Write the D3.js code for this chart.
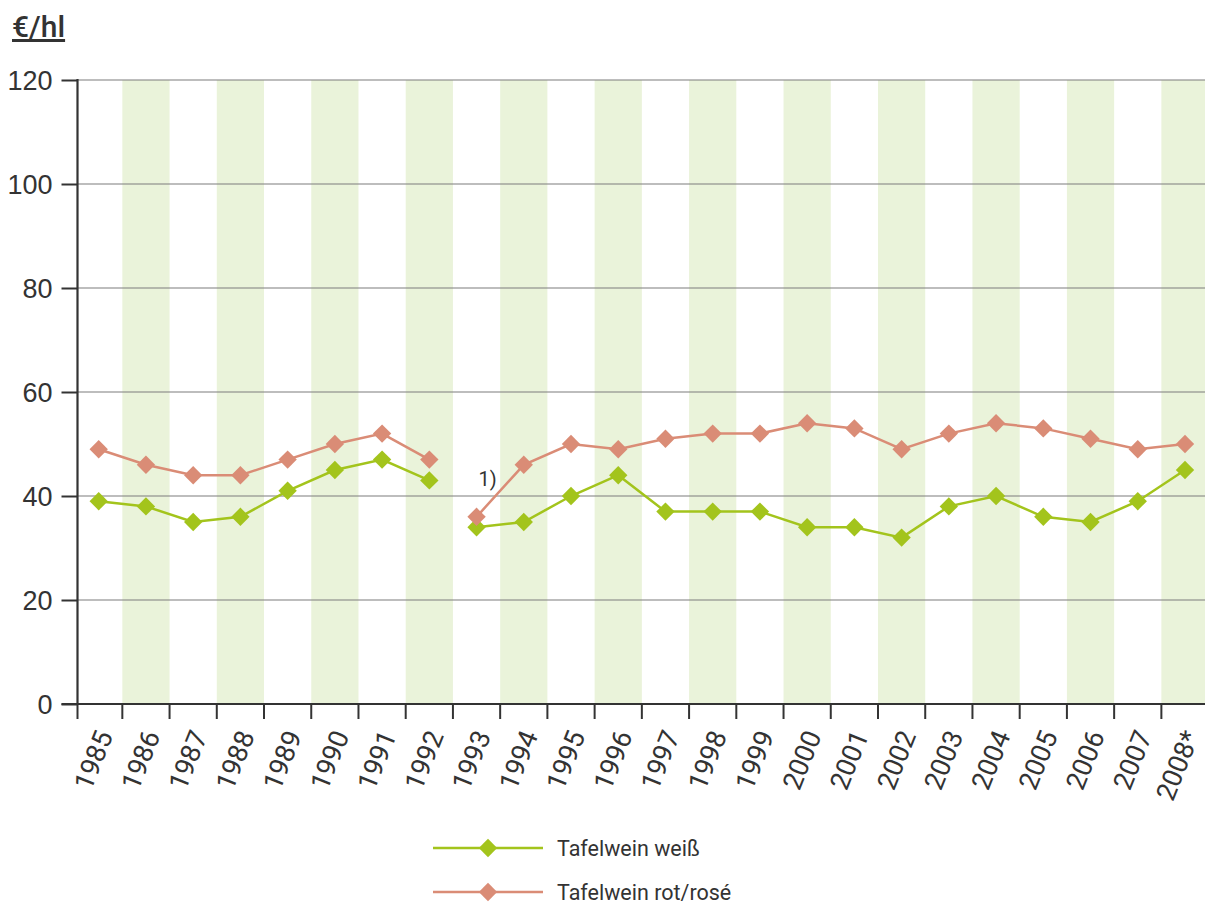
<!DOCTYPE html>
<html>
<head>
<meta charset="utf-8">
<script src="https://cdn.jsdelivr.net/npm/d3@7/dist/d3.min.js"></script>
<style>
  html, body { margin: 0; padding: 0; background: #fff; }
  svg { display: block; font-family: Roboto, "Noto Sans", sans-serif; }
</style>
</head>
<body>
<svg id="chart" width="1205" height="903"></svg>
<script>
// Years on the x axis (2008 is provisional)
const years = ["1985","1986","1987","1988","1989","1990","1991","1992","1993","1994","1995","1996",
               "1997","1998","1999","2000","2001","2002","2003","2004","2005","2006","2007","2008"];
const yearLabels = ["1985","1986","1987","1988","1989","1990","1991","1992","1993","1994","1995","1996",
               "1997","1998","1999","2000","2001","2002","2003","2004","2005","2006","2007","2008*"];
// Prices in €/hl
const weiss = [39, 38, 35, 36, 41, 45, 47, 43, 34, 35, 40, 44, 37, 37, 37, 34, 34, 32, 38, 40, 36, 35, 39, 45];
const rot   = [49, 46, 44, 44, 47, 50, 52, 47, 36, 46, 50, 49, 51, 52, 52, 54, 53, 49, 52, 54, 53, 51, 49, 50];
const yTicks = [0, 20, 40, 60, 80, 100, 120];
// The series are not connected across this break (footnote 1)
const breakAfter = "1992";
const footnoteYear = "1993";
const seriesNames = ["Tafelwein weiß", "Tafelwein rot/rosé"];
const seriesColors = ["#a3c41c", "#da8c76"];

const svg = d3.select("#chart");
const plotLeft = 75.1, plotRight = 1208.6, plotTop = 80, plotBottom = 704;
const axisX = 77.5;

const x = d3.scaleBand().domain(years).range([plotLeft, plotRight]).padding(0);
const y = d3.scaleLinear().domain([0, 120]).range([plotBottom, plotTop]);
const cx = d => x(d) + x.bandwidth() / 2;

// alternating shaded year bands
svg.append("g").selectAll("rect")
  .data(years.filter((d, i) => i % 2 === 1))
  .join("rect")
  .attr("x", d => x(d))
  .attr("y", plotTop)
  .attr("width", x.bandwidth())
  .attr("height", plotBottom - plotTop)
  .attr("fill", "#eaf3da");

// horizontal grid
svg.append("g").selectAll("line")
  .data(yTicks.filter(t => t > 0))
  .join("line")
  .attr("x1", axisX).attr("x2", 1205)
  .attr("y1", d => y(d)).attr("y2", d => y(d))
  .attr("stroke", "#7d7d7d").attr("stroke-width", 1.2);

// y axis
const yAxis = d3.axisLeft(y).tickValues(yTicks).tickSize(16).tickPadding(9).tickFormat(d3.format("d"));
const gy = svg.append("g").attr("transform", `translate(${axisX},0)`).call(yAxis);
gy.select(".domain").remove();
gy.selectAll(".tick line").attr("stroke", "#333").attr("stroke-width", 2);
gy.selectAll(".tick text").attr("fill", "#333").attr("font-size", 27).attr("dy", "0.35em");
svg.append("line")
  .attr("x1", axisX).attr("x2", axisX)
  .attr("y1", plotTop - 1).attr("y2", plotBottom + 1)
  .attr("stroke", "#333").attr("stroke-width", 2.2);

// x axis: ticks at band boundaries, labels rotated per year
const gx = svg.append("g");
gx.append("line")
  .attr("x1", axisX - 16).attr("x2", 1205)
  .attr("y1", plotBottom).attr("y2", plotBottom)
  .attr("stroke", "#333").attr("stroke-width", 2.2);
gx.selectAll("line.tick")
  .data(years)
  .join("line")
  .attr("class", "tick")
  .attr("x1", (d, i) => i === 0 ? axisX : x(d))
  .attr("x2", (d, i) => i === 0 ? axisX : x(d))
  .attr("y1", plotBottom).attr("y2", plotBottom + 15)
  .attr("stroke", "#333").attr("stroke-width", 2);
gx.selectAll("text")
  .data(years)
  .join("text")
  .attr("transform", d => `translate(${cx(d) + 6},${plotBottom + 28}) rotate(-68)`)
  .attr("text-anchor", "end")
  .attr("dy", "0.35em")
  .attr("font-size", 27)
  .attr("fill", "#333")
  .text((d, i) => yearLabels[i]);

// y axis unit title
svg.append("text")
  .attr("x", 12).attr("y", 37)
  .attr("font-size", 30).attr("font-weight", 500)
  .attr("fill", "#333")
  .attr("text-decoration", "underline")
  .text("€/hl");

// series lines and diamond markers
const series = [weiss, rot];
const line = d3.line().x(d => cx(d.year)).y(d => y(d.value));
const diamond = d3.symbol().type(d3.symbolDiamond2).size(215);
const breakIdx = years.indexOf(breakAfter) + 1;

series.forEach((vals, s) => {
  const pts = years.map((yr, i) => ({ year: yr, value: vals[i] }));
  const segments = [pts.slice(0, breakIdx), pts.slice(breakIdx)];
  const g = svg.append("g");
  g.selectAll("path.seg")
    .data(segments)
    .join("path")
    .attr("class", "seg")
    .attr("d", line)
    .attr("fill", "none")
    .attr("stroke", seriesColors[s])
    .attr("stroke-width", 2.5);
  g.selectAll("path.pt")
    .data(pts)
    .join("path")
    .attr("class", "pt")
    .attr("transform", d => `translate(${cx(d.year)},${y(d.value)})`)
    .attr("d", diamond)
    .attr("fill", seriesColors[s]);
});

// footnote marker
svg.append("text")
  .attr("x", cx(footnoteYear) + 11)
  .attr("y", y(42))
  .attr("text-anchor", "middle")
  .attr("font-size", 20)
  .attr("fill", "#333")
  .text("1)");

// legend
const legend = svg.append("g");
seriesNames.forEach((name, s) => {
  const ly = 848 + s * 44;
  const g = legend.append("g");
  g.append("line")
    .attr("x1", 433).attr("x2", 543).attr("y1", ly).attr("y2", ly)
    .attr("stroke", seriesColors[s]).attr("stroke-width", 2.5);
  g.append("path")
    .attr("transform", `translate(488,${ly})`)
    .attr("d", diamond)
    .attr("fill", seriesColors[s]);
  g.append("text")
    .attr("x", 557).attr("y", ly)
    .attr("dy", "0.35em")
    .attr("font-size", 21.5)
    .attr("fill", "#333")
    .text(name);
});
</script>
</body>
</html>
